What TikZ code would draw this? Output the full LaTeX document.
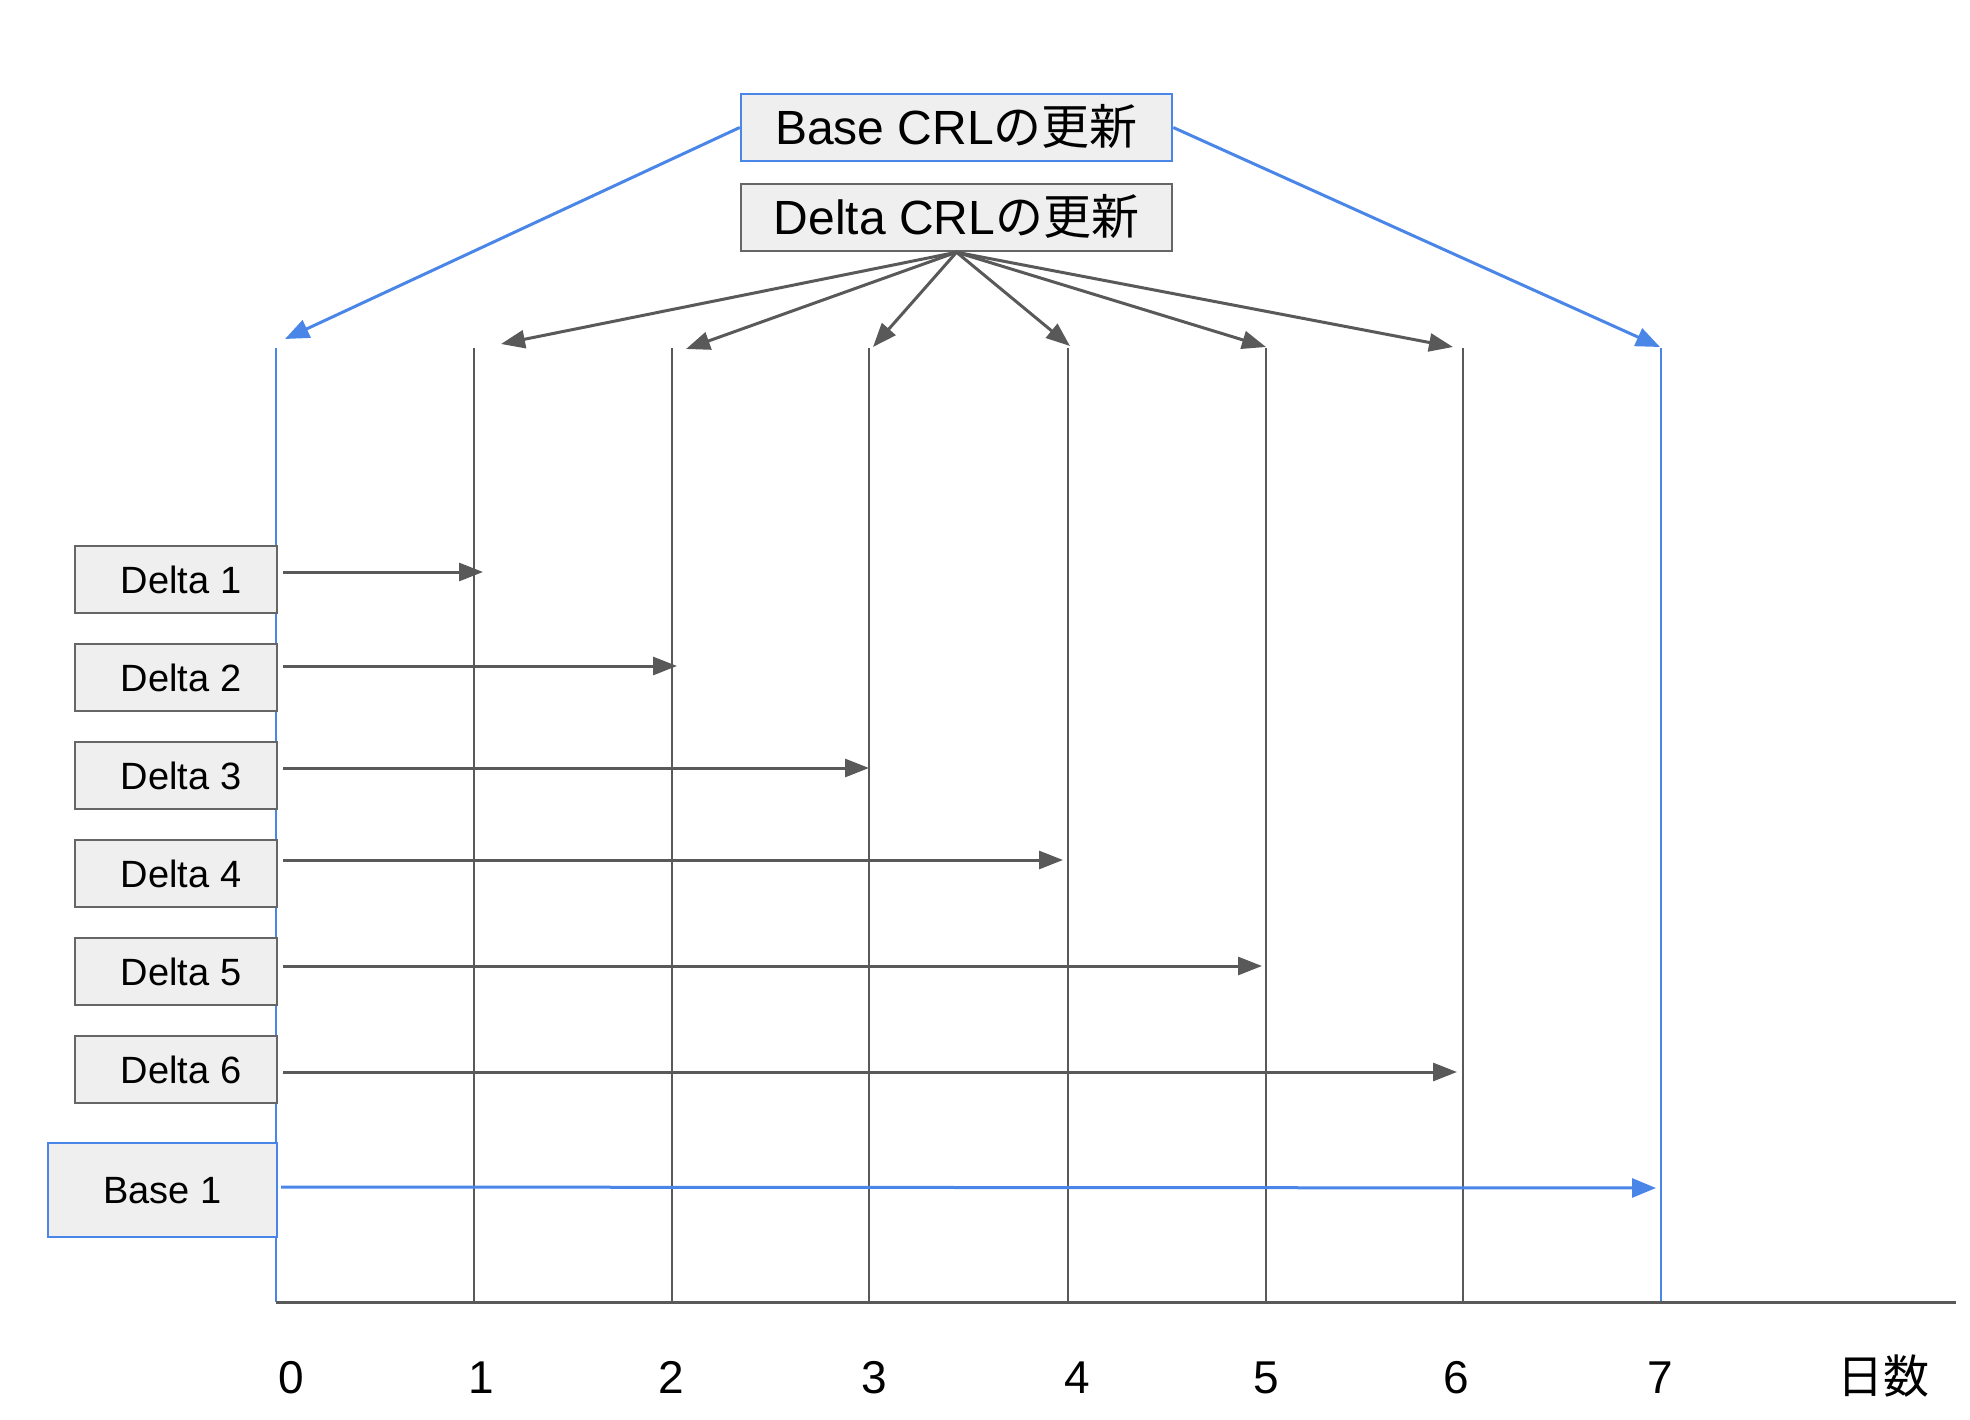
\documentclass[tikz,border=0pt]{standalone}
\usepackage{fontspec}
\setmainfont{Liberation Sans}
\newfontfamily\cjk{Noto Sans CJK JP}
\usetikzlibrary{arrows.meta}
\definecolor{lgray}{HTML}{595959}
\definecolor{bblue}{HTML}{4A86E8}
\definecolor{boxfill}{HTML}{EFEFEF}
\definecolor{boxline}{HTML}{666666}
\begin{document}
\begin{tikzpicture}[x=1pt,y=-1pt,
  grayline/.style={draw=lgray, line width=2.5pt},
  blueline/.style={draw=bblue, line width=2.5pt},
  garrow/.style={draw=lgray, line width=3pt, -{Triangle[length=24pt,width=18pt]}},
  barrow/.style={draw=bblue, line width=3pt, -{Triangle[length=24pt,width=19pt]}},
  dbox/.style={draw=boxline, fill=boxfill, line width=2.5pt, minimum width=202, minimum height=67,
    inner sep=0pt, font=\fontsize{38}{40}\selectfont, text height=27.3pt, text depth=0pt},
  bbox/.style={draw=bblue, fill=boxfill, line width=2.5pt, minimum width=229, minimum height=94,
    inner sep=0pt, font=\fontsize{38}{40}\selectfont, text height=27.3pt, text depth=0pt},
  hbox/.style={fill=boxfill, line width=2.5pt, minimum width=431, minimum height=67,
    inner sep=0pt, font=\fontsize{48}{50}\selectfont, text height=34pt, text depth=0pt},
  axlabel/.style={anchor=base, inner sep=0pt, font=\fontsize{46}{50}\selectfont}
]
\useasboundingbox (0,0) rectangle (1970,1420);

% vertical day lines
\foreach \i/\x in {0/276,1/474,2/672,3/869,4/1068,5/1266,6/1463,7/1661}{
  \coordinate (t\i) at (\x,348);
  \coordinate (b\i) at (\x,1302);
}
\coordinate (axend) at (1956,1302);
\foreach \i in {1,...,6}{ \draw[grayline] (t\i) -- (b\i); }
\draw[blueline] (t0) -- (b0);
\draw[blueline] (t7) -- (b7);
\draw[draw=lgray, line width=3pt] (b0) -- (axend);

% header boxes
\node[hbox, draw=bblue] (bcrl) at (956.5,127.5) {Base CRL{\cjk の更新}};
\node[hbox, draw=boxline] (dcrl) at (956.5,217.5) {Delta CRL{\cjk の更新}};

% left boxes
\node[dbox] (d1) at (176,579.5) {\hspace*{10pt}Delta 1};
\node[dbox] (d2) at (176,677.5) {\hspace*{10pt}Delta 2};
\node[dbox] (d3) at (176,775.5) {\hspace*{10pt}Delta 3};
\node[dbox] (d4) at (176,873.5) {\hspace*{10pt}Delta 4};
\node[dbox] (d5) at (176,971.5) {\hspace*{10pt}Delta 5};
\node[dbox] (d6) at (176,1069.5) {\hspace*{10pt}Delta 6};
\node[bbox] (b1) at (162.5,1190) {Base 1};

% arrows from delta boxes
\coordinate (s1) at (283,572);  \coordinate (e1) at (483,572);
\coordinate (s2) at (283,666);  \coordinate (e2) at (677,666);
\coordinate (s3) at (283,768);  \coordinate (e3) at (869,768);
\coordinate (s4) at (283,860);  \coordinate (e4) at (1063,860);
\coordinate (s5) at (283,966);  \coordinate (e5) at (1262,966);
\coordinate (s6) at (283,1072); \coordinate (e6) at (1457,1072);
\coordinate (sb) at (281,1187); \coordinate (eb) at (1656,1188);
\foreach \i in {1,...,6}{ \draw[garrow] (s\i) -- (e\i); }
\draw[barrow] (sb) -- (eb);

% arrows from Delta CRL
\coordinate (u1) at (501,344);
\coordinate (u2) at (686,349);
\coordinate (u3) at (873,347);
\coordinate (u4) at (1070,346);
\coordinate (u5) at (1266,347);
\coordinate (u6) at (1453,347);
\foreach \i in {1,...,6}{ \draw[garrow] (dcrl.south) -- (u\i); }

% arrows from Base CRL
\coordinate (vl) at (285,339);
\coordinate (vr) at (1660,347);
\draw[barrow] (bcrl.west) -- (vl);
\draw[barrow] (bcrl.east) -- (vr);

% axis labels
\foreach \i/\x in {0/291,1/481,2/671,3/874,4/1077,5/1266,6/1456,7/1660}{
  \node[axlabel] (l\i) at (\x,1393) {\i};
}
\node[axlabel, font=\fontsize{46}{50}\selectfont\cjk] (days) at (1883,1393) {日数};
\end{tikzpicture}
\end{document}
